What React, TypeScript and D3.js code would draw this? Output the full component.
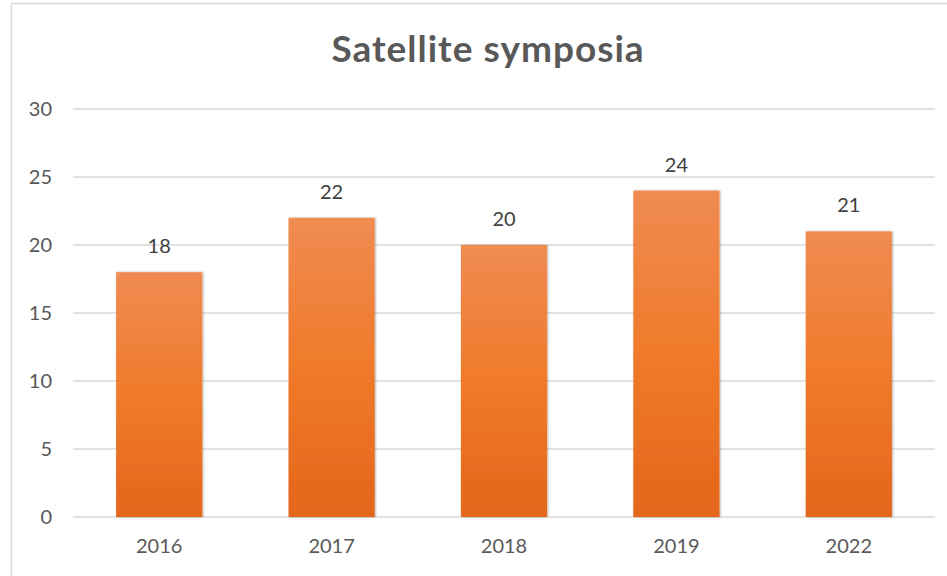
import * as d3 from 'd3';
import { useEffect, useRef } from 'react';

const years = ['2016', '2017', '2018', '2019', '2022'];
const counts = [18, 22, 20, 24, 21];
const yTicks = [0, 5, 10, 15, 20, 25, 30];
const chartTitle = 'Satellite symposia';

export default function App() {
    const ref = useRef<SVGSVGElement>(null);

    const W = 947, H = 576;
    const margin = { top: 109, right: 12, bottom: 59, left: 73 };
    const width = W - margin.left - margin.right;
    const height = H - margin.top - margin.bottom;

    useEffect(() => {
        const svg = d3.select(ref.current);
        svg.selectAll('*').remove();

        const font = 'Lato, Carlito, "Open Sans", sans-serif';

        const defs = svg.append('defs');
        const grad = defs.append('linearGradient')
            .attr('id', 'barGrad')
            .attr('x1', 0).attr('y1', 0).attr('x2', 0).attr('y2', 1);
        grad.append('stop').attr('offset', '0%').attr('stop-color', '#f08b52');
        grad.append('stop').attr('offset', '50%').attr('stop-color', '#f07a2a');
        grad.append('stop').attr('offset', '100%').attr('stop-color', '#e4661a');

        const shadow = defs.append('filter').attr('id', 'barShadow')
            .attr('x', '-10%').attr('y', '-10%').attr('width', '120%').attr('height', '120%');
        shadow.append('feDropShadow')
            .attr('dx', 1).attr('dy', 0).attr('stdDeviation', 1.2)
            .attr('flood-color', '#000').attr('flood-opacity', 0.3);

        // background + chart border (cropped on right/bottom)
        svg.append('rect').attr('width', W).attr('height', H).attr('fill', '#fff');
        svg.append('rect')
            .attr('x', 11.5).attr('y', 3.5)
            .attr('width', W + 20).attr('height', H + 20)
            .attr('fill', 'none').attr('stroke', '#d9d9d9').attr('stroke-width', 1.5);

        svg.append('text')
            .attr('x', 488).attr('y', 62)
            .attr('text-anchor', 'middle')
            .attr('font-family', font).attr('font-weight', 'bold')
            .attr('font-size', 37).attr('letter-spacing', 1)
            .attr('fill', '#595959')
            .text(chartTitle);

        const g = svg.append('g')
            .attr('transform', 'translate(' + margin.left + ',' + margin.top + ')');

        const x = d3.scaleBand()
            .domain(years)
            .range([0, width])
            .paddingInner(0.5)
            .paddingOuter(0.25);

        const y = d3.scaleLinear()
            .domain([0, 30])
            .range([height, 0]);

        // gridlines
        g.selectAll('line.grid')
            .data(yTicks)
            .enter()
            .append('line')
            .attr('x1', 0).attr('x2', width)
            .attr('y1', d => y(d)).attr('y2', d => y(d))
            .attr('stroke', '#d9d9d9').attr('stroke-width', 1.3);

        // y labels
        g.selectAll('text.ytick')
            .data(yTicks)
            .enter()
            .append('text')
            .attr('x', -21).attr('y', d => y(d))
            .attr('dy', '0.35em')
            .attr('text-anchor', 'end')
            .attr('font-family', font).attr('font-size', 20)
            .attr('fill', '#595959')
            .text(d => d);

        // bars
        g.selectAll('rect.bar')
            .data(counts)
            .enter()
            .append('rect')
            .attr('x', (d, i) => x(years[i]) as number)
            .attr('y', d => y(d))
            .attr('width', x.bandwidth())
            .attr('height', d => height - y(d))
            .attr('fill', 'url(#barGrad)')
            .attr('filter', 'url(#barShadow)');

        // value labels
        g.selectAll('text.val')
            .data(counts)
            .enter()
            .append('text')
            .attr('x', (d, i) => (x(years[i]) as number) + x.bandwidth() / 2)
            .attr('y', d => y(d) - 19)
            .attr('text-anchor', 'middle')
            .attr('font-family', font).attr('font-size', 20)
            .attr('fill', '#404040')
            .text(d => d);

        // x labels
        g.selectAll('text.xtick')
            .data(years)
            .enter()
            .append('text')
            .attr('x', d => (x(d) as number) + x.bandwidth() / 2)
            .attr('y', height + 36)
            .attr('text-anchor', 'middle')
            .attr('font-family', font).attr('font-size', 20)
            .attr('fill', '#595959')
            .text(d => d);
    }, []);

    return (
        <svg ref={ref} width={W} height={H}
            style={{ position: 'fixed', top: 0, left: 0, display: 'block' }} />
    );
}
